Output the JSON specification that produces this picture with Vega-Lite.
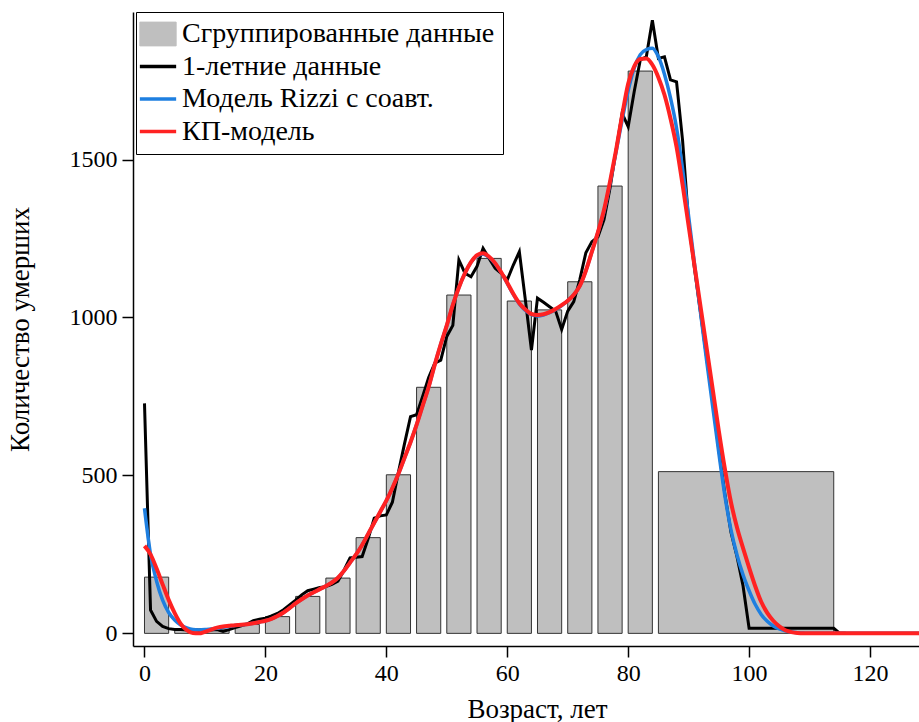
{
  "$schema": "https://vega.github.io/schema/vega-lite/v6.json",
  "width": 786,
  "height": 634,
  "autosize": {"type": "none"},
  "padding": {"left": 133, "top": 12, "right": 0, "bottom": 76},
  "config": {
    "view": {"stroke": null},
    "font": "Liberation Serif",
    "axis": {
      "domainColor": "black", "domainWidth": 1.5,
      "tickColor": "black", "tickWidth": 1.5, "tickSize": 11,
      "grid": false,
      "labelFont": "Liberation Serif", "labelFontSize": 24, "labelColor": "black",
      "titleFont": "Liberation Serif", "titleFontSize": 27, "titleFontWeight": "normal", "titleColor": "black"
    }
  },
  "datasets": {
    "bars": [
      {"x0": 0, "x1": 4, "v": 178},
      {"x0": 5, "x1": 9, "v": 12},
      {"x0": 10, "x1": 14, "v": 11},
      {"x0": 15, "x1": 19, "v": 28},
      {"x0": 20, "x1": 24, "v": 53},
      {"x0": 25, "x1": 29, "v": 117},
      {"x0": 30, "x1": 34, "v": 175},
      {"x0": 35, "x1": 39, "v": 303},
      {"x0": 40, "x1": 44, "v": 502},
      {"x0": 45, "x1": 49, "v": 779},
      {"x0": 50, "x1": 54, "v": 1071},
      {"x0": 55, "x1": 59, "v": 1187},
      {"x0": 60, "x1": 64, "v": 1052},
      {"x0": 65, "x1": 69, "v": 1024},
      {"x0": 70, "x1": 74, "v": 1113},
      {"x0": 75, "x1": 79, "v": 1416},
      {"x0": 80, "x1": 84, "v": 1780},
      {"x0": 85, "x1": 114, "v": 512}
    ],
    "black": [
      {"a":0,"v":728},{"a":1,"v":74},{"a":2,"v":38},{"a":3,"v":22},{"a":4,"v":15},{"a":5,"v":12},{"a":6,"v":12},{"a":7,"v":11},{"a":8,"v":12},{"a":9,"v":11},
      {"a":10,"v":12},{"a":11,"v":11},{"a":12,"v":12},{"a":13,"v":6},{"a":14,"v":12},{"a":15,"v":18},{"a":16,"v":24},{"a":17,"v":30},{"a":18,"v":40},{"a":19,"v":45},
      {"a":20,"v":48},{"a":21,"v":55},{"a":22,"v":63},{"a":23,"v":75},{"a":24,"v":90},{"a":25,"v":105},{"a":26,"v":122},{"a":27,"v":135},{"a":28,"v":140},{"a":29,"v":145},
      {"a":30,"v":148},{"a":31,"v":155},{"a":32,"v":165},{"a":33,"v":200},{"a":34,"v":239},{"a":35,"v":241},{"a":36,"v":243},{"a":37,"v":300},{"a":38,"v":365},{"a":39,"v":372},
      {"a":40,"v":375},{"a":41,"v":415},{"a":42,"v":510},{"a":43,"v":600},{"a":44,"v":686},{"a":45,"v":692},{"a":46,"v":750},{"a":47,"v":810},{"a":48,"v":855},{"a":49,"v":865},
      {"a":50,"v":940},{"a":51,"v":975},{"a":52,"v":1182},{"a":53,"v":1140},{"a":54,"v":1129},{"a":55,"v":1162},{"a":56,"v":1219},{"a":57,"v":1187},{"a":58,"v":1156},{"a":59,"v":1140},
      {"a":60,"v":1119},{"a":61,"v":1166},{"a":62,"v":1208},{"a":63,"v":1055},{"a":64,"v":897},{"a":65,"v":1061},{"a":66,"v":1048},{"a":67,"v":1034},{"a":68,"v":1020},{"a":69,"v":962},
      {"a":70,"v":1020},{"a":71,"v":1050},{"a":72,"v":1120},{"a":73,"v":1205},{"a":74,"v":1240},{"a":75,"v":1255},{"a":76,"v":1310},{"a":77,"v":1410},{"a":78,"v":1530},{"a":79,"v":1646},
      {"a":80,"v":1604},{"a":81,"v":1715},{"a":82,"v":1815},{"a":83,"v":1825},{"a":84,"v":1941},{"a":85,"v":1820},{"a":86,"v":1825},{"a":87,"v":1752},{"a":88,"v":1746},{"a":89,"v":1560},
      {"a":90,"v":1300},{"a":91,"v":1150},{"a":92,"v":1010},{"a":93,"v":870},{"a":94,"v":730},{"a":95,"v":580},{"a":96,"v":440},{"a":97,"v":320},{"a":98,"v":243},{"a":99,"v":150},
      {"a":100,"v":16},{"a":101,"v":16},{"a":102,"v":16},{"a":103,"v":16},{"a":104,"v":16},{"a":105,"v":16},{"a":106,"v":16},{"a":107,"v":16},{"a":108,"v":16},{"a":109,"v":16},
      {"a":110,"v":16},{"a":111,"v":16},{"a":112,"v":16},{"a":113,"v":16},{"a":114,"v":16},{"a":115,"v":0},{"a":116,"v":0}
    ],
    "blue": [
      {"a":0,"v":396},{"a":1,"v":250},{"a":2,"v":165},{"a":3,"v":105},{"a":4,"v":66},{"a":5,"v":42},{"a":6,"v":26},{"a":7,"v":17},{"a":8,"v":12},{"a":9,"v":11},
      {"a":10,"v":12},{"a":11,"v":14},{"a":12,"v":16},{"a":13,"v":19},{"a":14,"v":22},{"a":15,"v":25},{"a":16,"v":27},{"a":17,"v":29},{"a":18,"v":32},{"a":19,"v":36},
      {"a":20,"v":40},{"a":21,"v":46},{"a":22,"v":55},{"a":23,"v":66},{"a":24,"v":80},{"a":25,"v":95},{"a":26,"v":108},{"a":27,"v":120},{"a":28,"v":130},{"a":29,"v":140},
      {"a":30,"v":150},{"a":31,"v":161},{"a":32,"v":176},{"a":33,"v":198},{"a":34,"v":224},{"a":35,"v":250},{"a":36,"v":280},{"a":37,"v":315},{"a":38,"v":350},{"a":39,"v":385},
      {"a":40,"v":420},{"a":41,"v":460},{"a":42,"v":505},{"a":43,"v":555},{"a":44,"v":605},{"a":45,"v":660},{"a":46,"v":720},{"a":47,"v":780},{"a":48,"v":850},{"a":49,"v":915},
      {"a":50,"v":975},{"a":51,"v":1040},{"a":52,"v":1095},{"a":53,"v":1140},{"a":54,"v":1175},{"a":55,"v":1195},{"a":56,"v":1200},{"a":57,"v":1190},{"a":58,"v":1170},{"a":59,"v":1142},
      {"a":60,"v":1108},{"a":61,"v":1073},{"a":62,"v":1043},{"a":63,"v":1022},{"a":64,"v":1009},{"a":65,"v":1005},{"a":66,"v":1008},{"a":67,"v":1015},{"a":68,"v":1025},{"a":69,"v":1038},
      {"a":70,"v":1053},{"a":71,"v":1072},{"a":72,"v":1100},{"a":73,"v":1148},{"a":74,"v":1208},{"a":75,"v":1270},{"a":76,"v":1335},{"a":77,"v":1425},{"a":78,"v":1525},{"a":79,"v":1625},
      {"a":80,"v":1718},{"a":81,"v":1790},{"a":82,"v":1832},{"a":83,"v":1848},{"a":84,"v":1852},{"a":85,"v":1825},{"a":86,"v":1770},{"a":87,"v":1695},{"a":88,"v":1600},{"a":89,"v":1470},
      {"a":90,"v":1320},{"a":91,"v":1165},{"a":92,"v":1010},{"a":93,"v":860},{"a":94,"v":715},{"a":95,"v":570},{"a":96,"v":435},{"a":97,"v":328},{"a":98,"v":248},{"a":99,"v":185},
      {"a":100,"v":135},{"a":101,"v":92},{"a":102,"v":60},{"a":103,"v":38},{"a":104,"v":23},{"a":105,"v":14},{"a":106,"v":8},{"a":107,"v":4},{"a":108,"v":2},{"a":109,"v":1},
      {"a":110,"v":0},{"a":115,"v":0},{"a":120,"v":0},{"a":125,"v":0},{"a":129,"v":0}
    ],
    "red": [
      {"a":0,"v":277},{"a":1,"v":250},{"a":2,"v":205},{"a":3,"v":155},{"a":4,"v":106},{"a":5,"v":64},{"a":6,"v":30},{"a":7,"v":10},{"a":8,"v":1},{"a":9,"v":0},
      {"a":10,"v":5},{"a":11,"v":12},{"a":12,"v":18},{"a":13,"v":22},{"a":14,"v":24},{"a":15,"v":26},{"a":16,"v":27},{"a":17,"v":29},{"a":18,"v":32},{"a":19,"v":36},
      {"a":20,"v":40},{"a":21,"v":46},{"a":22,"v":55},{"a":23,"v":66},{"a":24,"v":80},{"a":25,"v":95},{"a":26,"v":108},{"a":27,"v":120},{"a":28,"v":130},{"a":29,"v":140},
      {"a":30,"v":150},{"a":31,"v":161},{"a":32,"v":176},{"a":33,"v":198},{"a":34,"v":224},{"a":35,"v":250},{"a":36,"v":280},{"a":37,"v":315},{"a":38,"v":350},{"a":39,"v":385},
      {"a":40,"v":420},{"a":41,"v":460},{"a":42,"v":505},{"a":43,"v":555},{"a":44,"v":605},{"a":45,"v":660},{"a":46,"v":720},{"a":47,"v":780},{"a":48,"v":850},{"a":49,"v":915},
      {"a":50,"v":975},{"a":51,"v":1040},{"a":52,"v":1095},{"a":53,"v":1140},{"a":54,"v":1175},{"a":55,"v":1197},{"a":56,"v":1203},{"a":57,"v":1192},{"a":58,"v":1172},{"a":59,"v":1143},
      {"a":60,"v":1110},{"a":61,"v":1075},{"a":62,"v":1045},{"a":63,"v":1025},{"a":64,"v":1011},{"a":65,"v":1008},{"a":66,"v":1010},{"a":67,"v":1017},{"a":68,"v":1027},{"a":69,"v":1039},
      {"a":70,"v":1053},{"a":71,"v":1072},{"a":72,"v":1100},{"a":73,"v":1148},{"a":74,"v":1208},{"a":75,"v":1270},{"a":76,"v":1340},{"a":77,"v":1430},{"a":78,"v":1530},{"a":79,"v":1640},
      {"a":80,"v":1740},{"a":81,"v":1795},{"a":82,"v":1818},{"a":83,"v":1820},{"a":84,"v":1800},{"a":85,"v":1760},{"a":86,"v":1705},{"a":87,"v":1630},{"a":88,"v":1540},{"a":89,"v":1420},
      {"a":90,"v":1290},{"a":91,"v":1160},{"a":92,"v":1030},{"a":93,"v":900},{"a":94,"v":770},{"a":95,"v":640},{"a":96,"v":520},{"a":97,"v":415},{"a":98,"v":335},{"a":99,"v":270},
      {"a":100,"v":208},{"a":101,"v":150},{"a":102,"v":100},{"a":103,"v":65},{"a":104,"v":40},{"a":105,"v":22},{"a":106,"v":10},{"a":107,"v":4},{"a":108,"v":1},{"a":109,"v":0},
      {"a":110,"v":0},{"a":115,"v":0},{"a":120,"v":0},{"a":125,"v":0},{"a":129,"v":0}
    ]
  },
  "layer": [
    {
      "data": {"name": "bars"},
      "mark": {"type": "rect", "fill": "#bfbfbf", "stroke": "#333333", "strokeWidth": 1},
      "encoding": {
        "x": {"field": "x0", "type": "quantitative",
              "scale": {"domain": [-1.9, 128.1], "nice": false, "zero": false},
              "axis": {"values": [0, 20, 40, 60, 80, 100, 120], "format": "d", "title": "Возраст, лет", "labelPadding": 4, "titlePadding": 11, "titleX": 404}},
        "x2": {"field": "x1"},
        "y": {"field": "v", "type": "quantitative",
              "scale": {"domain": [-40, 1967], "nice": false, "zero": false},
              "axis": {"values": [0, 500, 1000, 1500], "format": "d", "title": "Количество умерших", "labelPadding": 5, "titlePadding": 35}},
        "y2": {"datum": 0}
      }
    },
    {
      "data": {"name": "black"},
      "transform": [{"calculate": "'1-летние данные'", "as": "s"}],
      "mark": {"type": "line", "strokeWidth": 3, "clip": true},
      "encoding": {
        "x": {"field": "a", "type": "quantitative"},
        "y": {"field": "v", "type": "quantitative"},
        "color": {"field": "s", "type": "nominal",
          "scale": {"domain": ["Сгруппированные данные", "1-летние данные", "Модель Rizzi с соавт.", "КП-модель"],
                    "range": ["#bfbfbf", "#000000", "#1e7fe0", "#ff2222"]},
          "legend": {
            "title": null, "orient": "none", "legendX": 3, "legendY": 0,
            "strokeColor": "black", "fillColor": "white", "padding": 8,
            "labelFont": "Liberation Serif", "labelFontSize": 28, "labelColor": "black", "labelLimit": 500,
            "labelOffset": 10, "symbolSize": 1089, "rowPadding": 4.5, "symbolStrokeWidth": 3,
            "encode": {"symbols": {"update": {
              "shape": {"signal": "datum.value === 'Сгруппированные данные' ? 'M-1.1,-0.72H1.1V0.72H-1.1Z' : 'M-1.1,0H1.1'"},
              "fill": {"signal": "datum.value === 'Сгруппированные данные' ? '#bfbfbf' : 'transparent'"},
              "stroke": {"signal": "datum.value === 'Сгруппированные данные' ? '#333333' : datum.value === '1-летние данные' ? '#000000' : datum.value === 'КП-модель' ? '#ff2222' : '#1e7fe0'"},
              "strokeWidth": {"signal": "datum.value === 'Сгруппированные данные' ? 1 : 3.5"},
              "opacity": {"value": 1}
            }}}
          }}
      }
    },
    {
      "data": {"name": "blue"},
      "transform": [{"calculate": "'Модель Rizzi с соавт.'", "as": "s"}],
      "mark": {"type": "line", "strokeWidth": 3.5, "interpolate": "monotone", "clip": true},
      "encoding": {
        "x": {"field": "a", "type": "quantitative"},
        "y": {"field": "v", "type": "quantitative"},
        "color": {"field": "s", "type": "nominal"}
      }
    },
    {
      "data": {"name": "red"},
      "transform": [{"calculate": "'КП-модель'", "as": "s"}],
      "mark": {"type": "line", "strokeWidth": 4, "interpolate": "monotone", "clip": true},
      "encoding": {
        "x": {"field": "a", "type": "quantitative"},
        "y": {"field": "v", "type": "quantitative"},
        "color": {"field": "s", "type": "nominal"}
      }
    }
  ]
}
